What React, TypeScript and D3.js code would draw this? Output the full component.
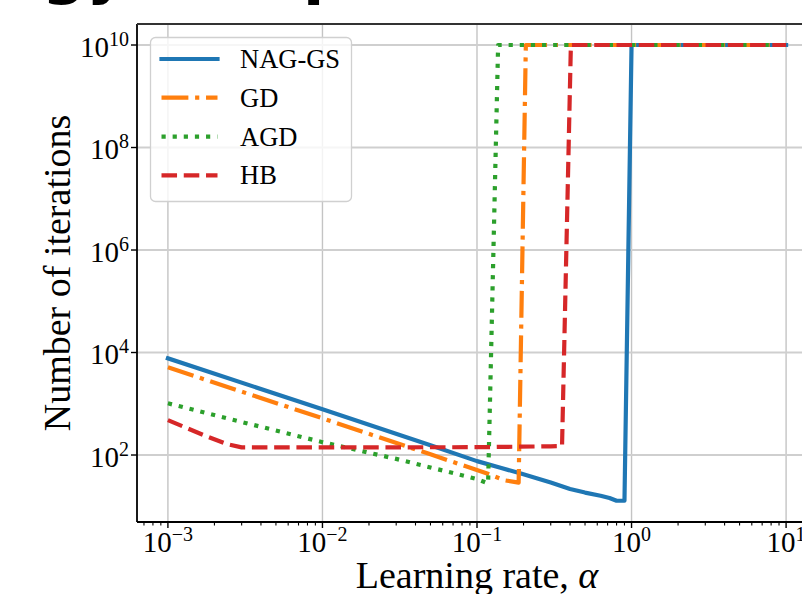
import React from 'react';
import * as d3 from 'd3';

const W = 802;
const H = 594;

// Data
const alphaNAG = [0.001, 0.01, 0.05, 0.1, 0.14, 0.19, 0.3, 0.4, 0.5, 0.63, 0.72, 0.8, 0.9, 1.0, 10];
const itersNAG = [7700, 780, 155, 76, 57, 44, 29, 21.7, 18.5, 16, 14.5, 12.8, 12.8, 1e10, 1e10];

const alphaGD = [0.001, 0.01, 0.05, 0.115, 0.152, 0.186, 0.207, 10];
const itersGD = [5140, 520, 103, 44, 32, 29, 1e10, 1e10];

const alphaAGD = [0.001, 0.00267, 0.01, 0.03, 0.1, 0.118, 0.137, 10];
const itersAGD = [1020, 482, 178, 84, 34, 28, 1e10, 1e10];

const alphaHB = [0.001, 0.0017, 0.0024, 0.003, 0.01, 0.1, 0.3, 0.355, 0.405, 10];
const itersHB = [480, 245, 164, 141, 141, 142, 148, 150, 1e10, 1e10];

const seriesNames = ['NAG-GS', 'GD', 'AGD', 'HB'];
const seriesColors = ['#1f77b4', '#ff7f0e', '#2ca02c', '#d62728'];
const xTickExps = [-3, -2, -1, 0, 1];
const yTickExps = [2, 4, 6, 8, 10];

const LW = 4.2;
const dashes = ['', `${6.4 * LW},${1.6 * LW},${1 * LW},${1.6 * LW}`, `${1 * LW},${1.65 * LW}`, `${3.7 * LW},${1.6 * LW}`];

const FONT = '"Liberation Serif", "Times New Roman", serif';

const supText = (e: number) => (e < 0 ? '\u2212' + Math.abs(e) : String(e));

export default function App() {
  const left = 137, right = 817, top = 24, bottom = 522;
  const x = d3.scaleLog().domain([Math.pow(10, -3.2), Math.pow(10, 1.2)]).range([left, right]);
  const y = d3.scaleLog().domain([Math.pow(10, 0.693), Math.pow(10, 10.41)]).range([bottom, top]);
  const line = d3
    .line<[number, number]>()
    .x((d) => x(d[0]))
    .y((d) => y(d[1]));

  const series: [number, number][][] = [
    alphaNAG.map((a, i) => [a, itersNAG[i]] as [number, number]),
    alphaGD.map((a, i) => [a, itersGD[i]] as [number, number]),
    alphaAGD.map((a, i) => [a, itersAGD[i]] as [number, number]),
    alphaHB.map((a, i) => [a, itersHB[i]] as [number, number]),
  ];

  const minorX: number[] = [];
  for (let d = -4; d <= 1; d++) {
    for (let k = 2; k <= 9; k++) {
      const v = k * Math.pow(10, d);
      const px = x(v);
      if (px >= left && px <= right) minorX.push(v);
    }
  }

  const legendRowY = [59, 97.7, 136.7, 175.3];

  return (
    <svg
      width={W}
      height={H}
      viewBox={`0 0 ${W} ${H}`}
      style={{ position: 'absolute', left: 0, top: 0, background: '#fff' }}
    >
      <defs>
        <clipPath id="plotclip">
          <rect x={left} y={top} width={right - left} height={bottom - top} />
        </clipPath>
      </defs>
      <rect x={0} y={0} width={W} height={H} fill="#fff" />

      {/* cropped title remnants */}
      <text x={42} y={-8} fontFamily='"DejaVu Sans", sans-serif' fontWeight="bold" fontSize={62} fill="#000">
        gy
      </text>
      <text x={303} y={-8} fontFamily='"DejaVu Sans", sans-serif' fontWeight="bold" fontSize={62} fill="#000">
        p
      </text>

      {/* grid */}
      {xTickExps.map((e) => (
        <line key={'gx' + e} x1={x(Math.pow(10, e))} x2={x(Math.pow(10, e))} y1={top} y2={bottom} stroke="#c4c4c4" strokeWidth={1.4} />
      ))}
      {yTickExps.map((e) => (
        <line key={'gy' + e} x1={left} x2={right} y1={y(Math.pow(10, e))} y2={y(Math.pow(10, e))} stroke="#cfcfcf" strokeWidth={2} />
      ))}

      {/* series */}
      <g clipPath="url(#plotclip)">
        {series.map((s, i) => (
          <path
            key={seriesNames[i]}
            d={line(s) || ''}
            fill="none"
            stroke={seriesColors[i]}
            strokeWidth={LW}
            strokeDasharray={dashes[i] || undefined}
            strokeLinecap={i === 0 ? 'square' : 'butt'}
            strokeLinejoin="round"
          />
        ))}
      </g>

      {/* spines */}
      <line x1={left} x2={left} y1={top} y2={bottom} stroke="#000" strokeWidth={1.8} />
      <line x1={left} x2={right} y1={bottom} y2={bottom} stroke="#000" strokeWidth={1.8} />
      <line x1={left} x2={right} y1={top} y2={top} stroke="#333" strokeWidth={1.8} />
      <line x1={right} x2={right} y1={top} y2={bottom} stroke="#000" strokeWidth={1.8} />

      {/* x ticks */}
      {xTickExps.map((e) => (
        <line key={'tx' + e} x1={x(Math.pow(10, e))} x2={x(Math.pow(10, e))} y1={bottom} y2={bottom + 6} stroke="#000" strokeWidth={1.4} />
      ))}
      {minorX.map((v, i) => (
        <line key={'mx' + i} x1={x(v)} x2={x(v)} y1={bottom} y2={bottom + 3.5} stroke="#000" strokeWidth={1.1} />
      ))}
      {xTickExps.map((e) => (
        <text key={'lx' + e} x={x(Math.pow(10, e))} y={551.5} textAnchor="middle" fontFamily={FONT} fontSize={29} fill="#000">
          10
          <tspan fontSize={20} dy={-11}>
            {supText(e)}
          </tspan>
        </text>
      ))}

      {/* y ticks */}
      {yTickExps.map((e) => (
        <line key={'ty' + e} x1={left - 6} x2={left} y1={y(Math.pow(10, e))} y2={y(Math.pow(10, e))} stroke="#000" strokeWidth={1.4} />
      ))}
      {yTickExps.map((e) => (
        <text key={'ly' + e} x={129} y={y(Math.pow(10, e)) + 11.5} textAnchor="end" fontFamily={FONT} fontSize={29} fill="#000">
          10
          <tspan fontSize={20} dy={-11}>
            {supText(e)}
          </tspan>
        </text>
      ))}

      {/* axis labels */}
      <text x={(left + right) / 2} y={588} textAnchor="middle" fontFamily={FONT} fontSize={38} fill="#000">
        Learning rate, <tspan fontStyle="italic">α</tspan>
      </text>
      <text
        transform={`translate(70, ${(top + bottom) / 2}) rotate(-90)`}
        textAnchor="middle"
        fontFamily={FONT}
        fontSize={38}
        fill="#000"
      >
        Number of iterations
      </text>

      {/* legend */}
      <rect x={150.5} y={37.5} width={201} height={164} rx={5} ry={5} fill="#fff" fillOpacity={0.8} stroke="#d0d0d0" strokeWidth={1.3} />
      {seriesNames.map((n, i) => (
        <g key={'lg' + n}>
          <line
            x1={161.5}
            x2={217.5}
            y1={legendRowY[i]}
            y2={legendRowY[i]}
            stroke={seriesColors[i]}
            strokeWidth={LW}
            strokeDasharray={dashes[i] || undefined}
            strokeLinecap={i === 0 ? 'square' : 'butt'}
          />
          <text x={240} y={legendRowY[i] + 9} fontFamily={FONT} fontSize={26.5} fill="#000">
            {n}
          </text>
        </g>
      ))}
    </svg>
  );
}
